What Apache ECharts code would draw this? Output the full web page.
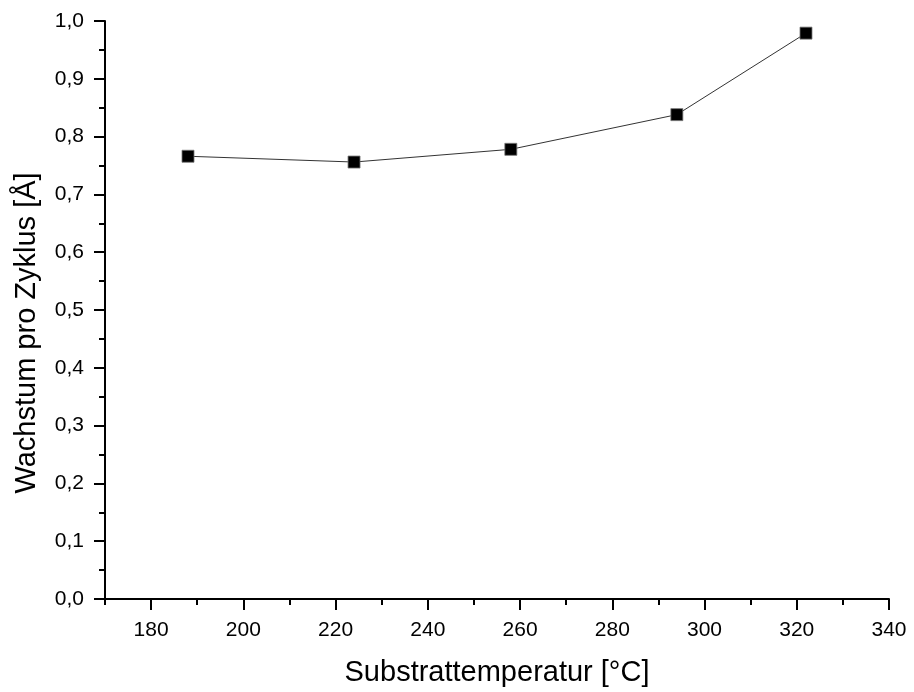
<!DOCTYPE html>
<html>
<head>
<meta charset="utf-8">
<script src="https://cdn.jsdelivr.net/npm/echarts@6/dist/echarts.min.js"></script>
<style>html,body{margin:0;padding:0;background:#fff}#c{width:914px;height:692px}</style>
</head>
<body>
<div id="c"></div>
<script>
const temperatures = [188, 224, 258, 294, 322];
const growth = [0.766, 0.756, 0.778, 0.838, 0.979];
const xMajorTicks = [180, 200, 220, 240, 260, 280, 300, 320, 340];
const xMinorTicks = [170, 190, 210, 230, 250, 270, 290, 310, 330];
const xTitle = 'Substrattemperatur [°C]';
const yTitle = 'Wachstum pro Zyklus [Å]';

const font = 'Liberation Sans, Arial, sans-serif';
const chart = echarts.init(document.getElementById('c'));
chart.setOption({
  animation: false,
  backgroundColor: '#fff',
  grid: { left: 105, top: 21, right: 25, bottom: 92, containLabel: false },
  graphic: [{
    type: 'text',
    x: 27, y: 333,
    rotation: Math.PI / 2,
    style: { text: yTitle, fill: '#000', font: '29px ' + font, textAlign: 'center', textVerticalAlign: 'middle' }
  }],
  xAxis: [{
    type: 'value', min: 170, max: 340,
    axisLine: { show: true, lineStyle: { color: '#000', width: 2 } },
    axisTick: { show: true, inside: false, length: 11, lineStyle: { color: '#000', width: 2 }, customValues: xMajorTicks },
    axisLabel: { customValues: xMajorTicks, color: '#000', fontSize: 21, fontFamily: font, margin: 21 },
    splitLine: { show: false },
    name: xTitle, nameLocation: 'middle', nameGap: 59,
    nameTextStyle: { color: '#000', fontSize: 29, fontFamily: font }
  }, {
    type: 'value', min: 170, max: 340, position: 'bottom',
    axisLine: { show: false },
    axisTick: { show: true, length: 6, lineStyle: { color: '#000', width: 2 }, customValues: xMinorTicks },
    axisLabel: { show: false },
    splitLine: { show: false }
  }],
  yAxis: {
    type: 'value', min: 0, max: 1, interval: 0.1,
    axisLine: { show: true, lineStyle: { color: '#000', width: 2 } },
    axisTick: { show: true, length: 11, lineStyle: { color: '#000', width: 2 } },
    minorTick: { show: true, splitNumber: 2, length: 6, lineStyle: { color: '#000', width: 2 } },
    axisLabel: { color: '#000', fontSize: 21, fontFamily: font, margin: 21,
      formatter: v => v.toFixed(1).replace('.', ',') },
    splitLine: { show: false }
  },
  series: [{
    type: 'line',
    xAxisIndex: 0,
    data: temperatures.map((t, i) => [t, growth[i]]),
    symbol: 'rect', symbolSize: 12,
    lineStyle: { color: '#333', width: 1 },
    itemStyle: { color: '#000', borderColor: '#777', borderWidth: 0.8 }
  }]
});
</script>
</body>
</html>
